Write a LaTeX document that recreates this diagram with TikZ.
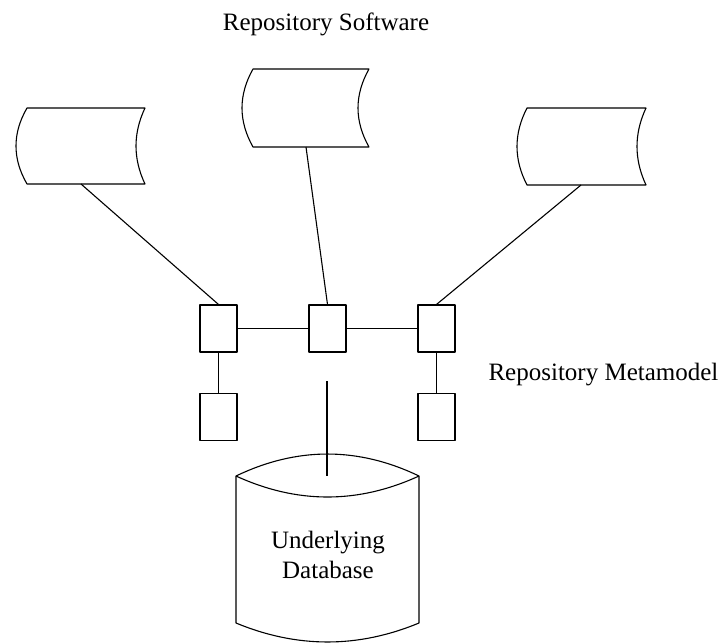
\documentclass[tikz,border=0pt]{standalone}
\usepackage{fontspec}
\setmainfont{Liberation Serif}
\begin{document}
\begin{tikzpicture}[x=1pt,y=-1pt,
  line width=1.1pt, line join=round,
  unitbox/.style={draw, rectangle, minimum width=37pt, minimum height=47pt, inner sep=0pt},
  caption/.style={font=\fontsize{25}{30}\selectfont, inner sep=0pt},
  link/.style={draw}]
\useasboundingbox (0,0) rectangle (727,642);

% stored-data symbols: flat top and bottom, bulging left side, hollow right side
% #1 left corner x, #2 leftmost x, #3 right corner x, #4 innermost right x, #5 top, #6 bottom
\newcommand{\storedata}[6]{%
  \draw (#1,#5) -- (#3,#5)
    .. controls ({#3-4/3*(#3-#4)},{#5+(#6-#5)/3}) and ({#3-4/3*(#3-#4)},{#6-(#6-#5)/3}) .. (#3,#6)
    -- (#1,#6)
    .. controls ({#1-4/3*(#1-#2)},{#6-(#6-#5)/3}) and ({#1-4/3*(#1-#2)},{#5+(#6-#5)/3}) .. cycle;}

\storedata{27}{16}{145}{136}{108}{184}
\storedata{253}{242}{369}{358}{69}{147}
\storedata{527}{517}{646}{637}{108}{185}

\coordinate (swL) at (81,184);
\coordinate (swC) at (306,147);
\coordinate (swR) at (581,185);

% metamodel boxes
\node[unitbox] (mL) at (218.5,328.5) {};
\node[unitbox] (mC) at (327.5,328.5) {};
\node[unitbox] (mR) at (436.5,328.5) {};
\node[unitbox] (bL) at (218.5,417) {};
\node[unitbox] (bR) at (436.5,417) {};

% connectors
\draw[link] (swL) -- (mL.north);
\draw[link] (swC) -- (mC.north);
\draw[link] (swR) -- (mR.north);
\draw[link] (mL.east) -- (mC.west);
\draw[link] (mC.east) -- (mR.west);
\draw[link] (mL.south) -- (bL.north);
\draw[link] (mR.south) -- (bR.north);

% database cylinder
\draw (236,476) .. controls (297,446.7) and (358,446.7) .. (419,476)
      -- (419,623) .. controls (358,648.3) and (297,648.3) .. (236,623) -- cycle;
\draw (236,476) .. controls (297,504) and (358,504) .. (419,476);

\coordinate (dbTop) at (327,381);
\coordinate (dbIn) at (327,476);
\draw[link] (dbTop) -- (dbIn);

% labels
\node[caption, anchor=base] (lblSw) at (326,31) {Repository Software};
\node[caption, anchor=base west] (lblMm) at (488,380) {Repository Metamodel};
\node[caption, anchor=base] (lblDb1) at (328,548) {Underlying};
\node[caption, anchor=base] (lblDb2) at (328,578) {Database};
\end{tikzpicture}
\end{document}
